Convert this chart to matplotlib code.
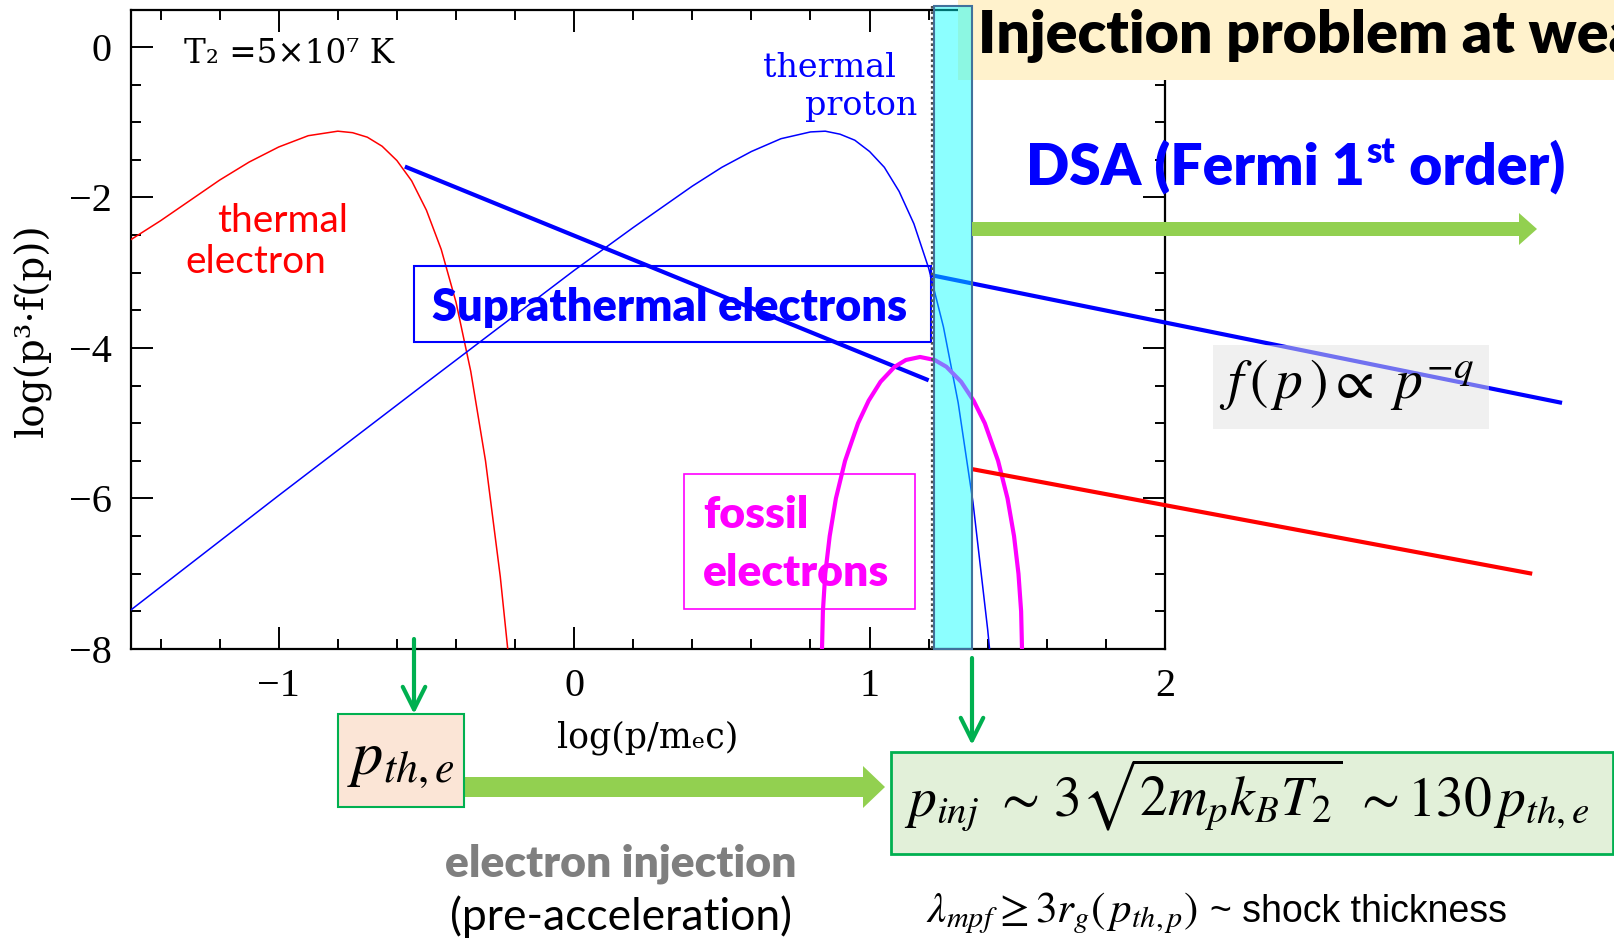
import matplotlib
matplotlib.use('Agg')
import matplotlib.pyplot as plt
from matplotlib.patches import Rectangle, FancyArrow
from matplotlib.ticker import MultipleLocator

# ---------------- data ----------------
electron_x = [-1.5, -1.4, -1.3, -1.2, -1.1, -1.0, -0.9, -0.8, -0.75, -0.7, -0.65, -0.6,
              -0.55, -0.5, -0.45, -0.4, -0.35, -0.3, -0.25, -0.22]
electron_y = [-2.56, -2.31, -2.04, -1.77, -1.53, -1.33, -1.18, -1.12, -1.14, -1.20, -1.32, -1.51,
              -1.78, -2.17, -2.69, -3.39, -4.31, -5.50, -7.04, -8.18]

proton_x = [-1.5, -1.0, -0.5, 0.0, 0.2, 0.4, 0.5, 0.6, 0.7, 0.8, 0.85, 0.9, 0.95,
            1.0, 1.05, 1.1, 1.15, 1.2, 1.25, 1.3, 1.35, 1.4, 1.42]
proton_y = [-7.48, -5.96, -4.46, -2.97, -2.40, -1.85, -1.60, -1.39, -1.22, -1.13, -1.12, -1.16, -1.24,
            -1.39, -1.60, -1.92, -2.35, -2.94, -3.72, -4.73, -6.05, -7.75, -8.56]

supra_x = [-0.573, 1.20]
supra_y = [-1.59, -4.43]

dsa_p_x = [1.205, 3.344]
dsa_p_y = [-3.03, -4.73]

dsa_e_x = [1.347, 3.243]
dsa_e_y = [-5.61, -7.00]

fossil_x = [0.839, 0.842, 0.850, 0.865, 0.886, 0.917, 0.961, 0.997, 1.037, 1.085, 1.123, 1.171,
            1.220, 1.260, 1.310, 1.352, 1.390, 1.435, 1.467, 1.489, 1.504, 1.513, 1.516]
fossil_y = [-8.0, -7.5, -7.0, -6.5, -6.0, -5.5, -5.0, -4.7, -4.45, -4.25, -4.16, -4.12,
            -4.16, -4.25, -4.45, -4.7, -5.0, -5.5, -6.0, -6.5, -7.0, -7.5, -8.0]

x_major = [-1, 0, 1, 2]
x_labels = ['\u22121', '0', '1', '2']
y_major = [-8, -6, -4, -2, 0]
y_labels = ['\u22128', '\u22126', '\u22124', '\u22122', '0']

# ---------------- figure ----------------
plt.rcParams['mathtext.fontset'] = 'stix'
W, H = 1615, 944
fig = plt.figure(figsize=(W / 100, H / 100), dpi=100)
fig.patch.set_facecolor('white')

L, R, T, B = 131, 1165, 10, 649
ax = fig.add_axes([L / W, 1 - B / H, (R - L) / W, (B - T) / H])
ax.set_xlim(-1.5, 2.0)
ax.set_ylim(-8, 0.49)

ax.plot(electron_x, electron_y, color='#FF0000', lw=1.1, zorder=3)
ax.plot(proton_x, proton_y, color='#0000FF', lw=1.1, zorder=3)
ax.plot(supra_x, supra_y, color='#0000FF', lw=3, zorder=4, solid_capstyle='butt')
ax.plot(fossil_x, fossil_y, color='#FF00FF', lw=3, zorder=4)
ax.plot(dsa_p_x, dsa_p_y, color='#0000FF', lw=3, clip_on=False, zorder=4, solid_capstyle='butt')
ax.plot(dsa_e_x, dsa_e_y, color='#FF0000', lw=3, clip_on=False, zorder=4, solid_capstyle='butt')

ax.set_xticks(x_major)
ax.set_xticklabels(x_labels)
ax.set_yticks(y_major)
ax.set_yticklabels(y_labels)
ax.xaxis.set_minor_locator(MultipleLocator(0.2))
ax.yaxis.set_minor_locator(MultipleLocator(0.5))
ax.tick_params(which='major', direction='in', length=16, width=1.4, top=True, right=True,
               labelsize=29, pad=14)
ax.tick_params(which='minor', direction='in', length=7.5, width=1.4, top=True, right=True)
for lab in ax.get_xticklabels() + ax.get_yticklabels():
    lab.set_fontfamily('Liberation Serif')
for s in ax.spines.values():
    s.set_linewidth(1.6)

ax.set_xlabel('log(p/m\u2091c)', fontsize=25, family='DejaVu Serif')
ax.xaxis.set_label_coords((648 - L) / (R - L), (B - 720) / (B - T))
ax.set_ylabel('log(p\u00b3\u00b7f(p))', fontsize=28, family='DejaVu Serif')
ax.yaxis.set_label_coords((52 - L) / (R - L), (B - 330) / (B - T))

# ---------------- overlay in pixel coordinates ----------------
ov = fig.add_axes([0, 0, 1, 1])
ov.set_xlim(0, W)
ov.set_ylim(H, 0)
ov.axis('off')
ov.set_zorder(5)

SANS = 'Lato'

# title band
ov.add_patch(Rectangle((958, 0), W - 958, 80, fc='#FFF2CC', ec='none', zorder=1))
ov.text(978, 53, 'Injection problem at weak shocks', fontsize=42.5, fontweight='heavy',
        family=SANS, color='black', va='baseline', ha='left', zorder=2)

# cyan shock band
ov.add_patch(Rectangle((934, 6), 38, 643, fc=(0, 1, 1, 0.45), ec='#41719C', lw=1.5, zorder=3))
ov.plot([932.5, 932.5], [6, 649], color='#505050', ls=(0, (1.2, 1.2)), lw=1.6, zorder=4)

# in-plot labels
ov.text(184, 63, 'T\u2082 =5\u00d710\u2077 K', fontsize=23.5, family='DejaVu Serif', va='baseline')
ov.text(217, 232, 'thermal', fontsize=28, family=SANS, color='#FF0000', va='baseline')
ov.text(185, 273, 'electron', fontsize=28, family=SANS, color='#FF0000', va='baseline')
ov.text(763, 77, 'thermal', fontsize=24, family='DejaVu Serif', color='#0000FF', va='baseline')
ov.text(805, 115, 'proton', fontsize=24, family='DejaVu Serif', color='#0000FF', va='baseline')

ov.add_patch(Rectangle((414, 266), 517, 76, fc='none', ec='#0000FF', lw=1.5, zorder=3))
ov.text(432, 321, 'Suprathermal electrons', fontsize=32.5, fontweight='heavy', family=SANS,
        color='#0000FF', va='baseline')

ov.add_patch(Rectangle((684, 474), 231, 135, fc='none', ec='#FF00FF', lw=1.2, zorder=3))
ov.text(703, 528, 'fossil', fontsize=32, fontweight='heavy', family=SANS, color='#FF00FF', va='baseline')
ov.text(703, 586, 'electrons', fontsize=32, fontweight='heavy', family=SANS, color='#FF00FF', va='baseline')

# DSA heading with superscript
t1 = ov.text(1026, 185, 'DSA (Fermi 1', fontsize=41, fontweight='heavy', family=SANS,
             color='#0000FF', va='baseline')
fig.canvas.draw()
bb = t1.get_window_extent()
t2 = ov.text(bb.x1 + 2, 163, 'st', fontsize=25, fontweight='heavy', family=SANS,
             color='#0000FF', va='baseline')
fig.canvas.draw()
bb2 = t2.get_window_extent()
ov.text(bb2.x1, 185, ' order)', fontsize=41, fontweight='heavy', family=SANS,
        color='#0000FF', va='baseline')

# green arrows
ov.add_patch(FancyArrow(972, 229, 1537 - 972, 0, width=14, head_width=32, head_length=18,
                        length_includes_head=True, fc='#92D050', ec='none', zorder=3))
ov.add_patch(FancyArrow(465, 787, 885 - 465, 0, width=20, head_width=42, head_length=22,
                        length_includes_head=True, fc='#92D050', ec='none', zorder=3))
for xa, y0, y1 in [(414, 639, 714), (972, 658, 745)]:
    ov.annotate('', xy=(xa, y1), xytext=(xa, y0),
                arrowprops=dict(arrowstyle='->,head_length=0.9,head_width=0.45', color='#00B050',
                                lw=3, mutation_scale=18, shrinkA=0, shrinkB=0))

# power law box
ov.add_patch(Rectangle((1213, 345), 276, 84, fc='#E3E3E3', alpha=0.5, ec='none', zorder=3))
ov.text(1347, 384, r'$f\,(\,p\,)\propto\ p^{-q}$', fontsize=40, ha='center', va='center', zorder=4)

# p_th,e box
ov.add_patch(Rectangle((338, 714), 126, 93, fc='#FBE5D6', ec='#00B050', lw=1.5, zorder=3))
ov.text(401, 760, r'$p_{th,e}$', fontsize=45, ha='center', va='center', zorder=4)

# p_inj box
ov.add_patch(Rectangle((891, 752), 1613 - 891, 102, fc='#E2F0D9', ec='#00B050', lw=2, zorder=3))
ov.text(904, 817, r'$p_{inj}\ \sim\, 3\sqrt{2m_pk_BT_2}\ \sim 130\,p_{th,e}$', fontsize=40,
        ha='left', va='baseline', zorder=4)

ov.text(926, 922, r'$\lambda_{mpf}\geq 3r_g(\,p_{th,p})$', fontsize=31, ha='left', va='baseline')
ov.text(1210, 922, '~ shock thickness', fontsize=27, family='Liberation Sans',
        ha='left', va='baseline')

# bottom captions
ov.text(621, 877, 'electron injection', fontsize=32, fontweight='heavy', family=SANS,
        color='#7F7F7F', ha='center', va='baseline')
ov.text(621, 930, '(pre-acceleration)', fontsize=32, family=SANS, color='black',
        ha='center', va='baseline')

fig.savefig('out.png', dpi=100)
